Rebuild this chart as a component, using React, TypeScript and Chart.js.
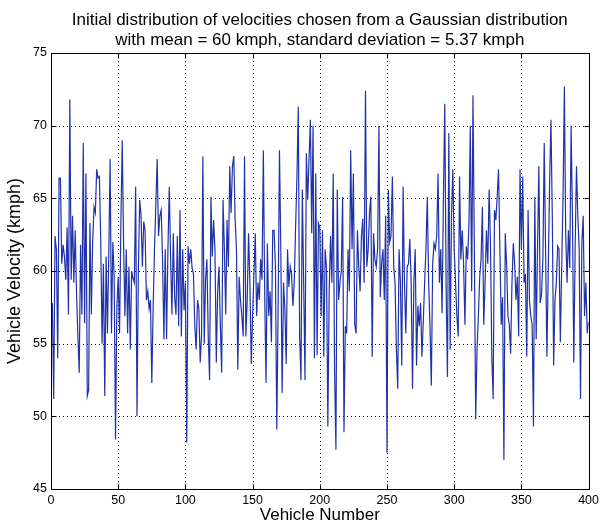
import { useEffect, useRef } from 'react';
import { Chart, registerables } from 'chart.js';

Chart.register(...registerables);

const titleLines = [
  'Initial distribution of velocities chosen from a Gaussian distribution',
  'with mean = 60 kmph, standard deviation = 5.37 kmph',
];
const xAxisTitle = 'Vehicle Number';
const yAxisTitle = 'Vehicle Velocity (kmph)';
const xTicks = [0, 50, 100, 150, 200, 250, 300, 350, 400];
const yTicks = [45, 50, 55, 60, 65, 70, 75];

const speeds001 = [57.8, 51.2, 62.4, 61.5, 54.0, 66.4, 66.4, 60.5, 61.8, 61.0, 59.4, 63.0, 57.0, 71.8, 59.4, 63.8, 59.2, 62.8, 58.5, 55.5, 53.0, 61.8, 57.0, 68.8, 56.4, 66.7, 51.4, 51.8, 63.3, 57.0, 62.0, 64.4, 64.0, 67.0, 66.4, 66.5, 62.2, 55.0, 60.5, 51.4, 61.0, 55.7, 61.2, 67.7, 55.7, 62.0, 59.6, 48.4, 57.5, 59.6];
const speeds051 = [55.7, 63.3, 69.0, 62.0, 56.9, 61.5, 55.7, 60.3, 54.6, 60.0, 59.5, 59.2, 65.8, 50.0, 60.0, 64.9, 63.8, 60.3, 63.4, 62.8, 58.0, 58.6, 57.4, 58.0, 52.3, 57.5, 61.5, 64.5, 67.7, 62.4, 63.8, 64.2, 60.8, 55.3, 61.5, 55.3, 61.5, 65.8, 60.8, 57.0, 62.6, 58.2, 57.0, 62.4, 56.2, 64.2, 55.5, 61.5, 57.3, 59.2];
const speeds101 = [48.2, 61.7, 60.5, 61.5, 60.2, 59.8, 56.2, 54.6, 58.0, 57.4, 53.7, 55.5, 67.9, 55.0, 59.4, 60.8, 55.5, 52.5, 65.1, 61.0, 63.5, 61.5, 53.7, 58.6, 60.3, 56.2, 53.0, 64.9, 61.5, 57.0, 63.5, 60.3, 67.2, 64.0, 67.2, 67.9, 63.6, 61.5, 53.2, 59.6, 58.0, 56.9, 55.5, 67.9, 55.5, 58.0, 62.6, 59.2, 53.6, 56.9];
const speeds151 = [59.8, 62.6, 56.9, 59.2, 58.0, 60.8, 59.4, 68.3, 58.5, 52.3, 61.9, 56.9, 58.6, 55.1, 62.8, 62.8, 60.3, 49.1, 57.4, 68.3, 61.5, 51.6, 59.2, 57.4, 53.6, 61.5, 58.9, 60.3, 59.8, 57.6, 59.2, 63.0, 66.5, 71.3, 55.5, 52.5, 65.6, 59.2, 52.5, 68.1, 64.9, 67.7, 70.4, 62.6, 70.0, 54.0, 66.7, 54.2, 63.3, 63.0];
const speeds201 = [56.9, 62.8, 54.1, 61.5, 60.2, 49.3, 58.6, 62.4, 59.2, 66.7, 53.2, 47.7, 65.6, 58.0, 59.2, 60.0, 65.1, 48.9, 56.2, 55.7, 61.5, 58.6, 68.3, 61.5, 66.7, 56.3, 55.7, 62.8, 60.3, 58.6, 62.4, 63.6, 59.2, 72.4, 60.3, 61.5, 64.0, 65.1, 54.1, 62.6, 60.8, 60.3, 61.5, 70.0, 58.2, 60.5, 61.5, 58.0, 63.8, 47.5];
const speeds251 = [65.6, 62.0, 62.4, 66.5, 60.3, 59.2, 54.6, 51.9, 61.5, 59.2, 53.5, 65.8, 59.2, 55.7, 60.3, 60.5, 62.2, 59.2, 51.9, 59.2, 61.5, 53.5, 57.6, 56.2, 57.8, 54.1, 56.5, 59.2, 61.5, 65.1, 59.2, 56.2, 52.1, 60.5, 61.9, 61.5, 62.4, 66.7, 59.2, 61.5, 57.1, 65.1, 71.5, 58.9, 52.7, 69.5, 54.6, 63.8, 67.0, 61.5];
const speeds301 = [59.2, 56.9, 55.5, 66.5, 60.8, 62.8, 60.5, 56.3, 61.7, 60.8, 63.3, 70.0, 58.6, 72.1, 61.5, 49.8, 54.6, 56.9, 59.6, 60.8, 64.4, 56.3, 59.2, 62.8, 60.5, 65.6, 61.9, 54.1, 51.2, 64.2, 63.5, 65.1, 67.0, 61.5, 56.3, 58.2, 47.0, 62.6, 60.5, 56.9, 56.3, 54.3, 59.2, 61.9, 60.5, 58.0, 59.6, 55.5, 67.0, 61.5];
const speeds351 = [66.5, 59.2, 59.8, 54.1, 64.2, 58.0, 56.9, 56.3, 49.3, 65.1, 55.3, 61.5, 67.2, 57.8, 58.4, 60.8, 68.8, 61.5, 54.1, 60.0, 66.0, 70.4, 63.8, 53.5, 58.0, 59.2, 61.7, 61.5, 55.1, 60.3, 65.1, 72.7, 62.4, 59.2, 62.8, 60.2, 70.0, 63.8, 53.7, 61.5, 67.2, 63.8, 61.5, 51.2, 61.9, 63.8, 56.9, 59.2, 55.7, 56.5];

const velocities = [
  ...speeds001, ...speeds051, ...speeds101, ...speeds151,
  ...speeds201, ...speeds251, ...speeds301, ...speeds351,
];
const vehicleNumbers = velocities.map((_, i) => i + 1);

const FONT = '"Liberation Sans", Arial, Helvetica, sans-serif';
const LINE_COLOR = 'rgb(32, 50, 168)';

const framePlugin = {
  id: 'matlabFrame',
  beforeDatasetsDraw(chart: any) {
    const { ctx, chartArea: a, scales } = chart;
    const x = scales.x;
    const y = scales.y;
    ctx.save();
    ctx.strokeStyle = '#000';
    ctx.lineWidth = 1;
    ctx.setLineDash([1, 3]);
    ctx.beginPath();
    xTicks.forEach((v) => {
      if (v <= x.min || v >= x.max) return;
      const px = Math.round(x.getPixelForValue(v)) + 0.5;
      ctx.moveTo(px, a.top);
      ctx.lineTo(px, a.bottom);
    });
    yTicks.forEach((v) => {
      if (v <= y.min || v >= y.max) return;
      const py = Math.round(y.getPixelForValue(v)) + 0.5;
      ctx.moveTo(a.left, py);
      ctx.lineTo(a.right, py);
    });
    ctx.stroke();
    ctx.restore();
  },
  afterDatasetsDraw(chart: any) {
    const { ctx, chartArea: a, scales } = chart;
    const x = scales.x;
    const y = scales.y;
    const t = 5;
    ctx.save();
    ctx.strokeStyle = '#000';
    ctx.lineWidth = 1;
    ctx.setLineDash([]);
    const l = Math.round(a.left) + 0.5;
    const r = Math.round(a.right) + 0.5;
    const tp = Math.round(a.top) + 0.5;
    const b = Math.round(a.bottom) + 0.5;
    ctx.strokeRect(l, tp, r - l, b - tp);
    ctx.beginPath();
    xTicks.forEach((v) => {
      const px = Math.round(x.getPixelForValue(v)) + 0.5;
      ctx.moveTo(px, b);
      ctx.lineTo(px, b - t);
      ctx.moveTo(px, tp);
      ctx.lineTo(px, tp + t);
    });
    yTicks.forEach((v) => {
      const py = Math.round(y.getPixelForValue(v)) + 0.5;
      ctx.moveTo(l, py);
      ctx.lineTo(l + t, py);
      ctx.moveTo(r, py);
      ctx.lineTo(r - t, py);
    });
    ctx.stroke();

    ctx.fillStyle = '#000';
    const cx = (a.left + a.right) / 2;
    ctx.textAlign = 'center';
    ctx.textBaseline = 'alphabetic';
    ctx.font = `17px ${FONT}`;
    ctx.fillText(titleLines[0], cx, 25);
    ctx.fillText(titleLines[1], cx, 44.5);

    ctx.textBaseline = 'middle';
    ctx.font = `17px ${FONT}`;
    ctx.fillText(xAxisTitle, cx, 515);

    ctx.save();
    ctx.translate(15, (a.top + a.bottom) / 2);
    ctx.rotate(-Math.PI / 2);
    ctx.font = `18px ${FONT}`;
    ctx.fillText(yAxisTitle, 0, 0);
    ctx.restore();
    ctx.restore();
  },
};

export default function App() {
  const canvasRef = useRef<HTMLCanvasElement | null>(null);

  useEffect(() => {
    document.body.style.margin = '0';
    const canvas = canvasRef.current;
    if (!canvas) return;
    const chart = new Chart(canvas, {
      type: 'line',
      data: {
        datasets: [
          {
            label: 'Vehicle velocity',
            data: vehicleNumbers.map((n, i) => ({ x: n, y: velocities[i] })),
            borderColor: LINE_COLOR,
            borderWidth: 1.2,
            pointRadius: 0,
            tension: 0,
            fill: false,
          },
        ],
      },
      options: {
        animation: false,
        responsive: false,
        maintainAspectRatio: false,
        layout: { padding: { top: 53, right: 12, left: 0, bottom: 0 } },
        plugins: {
          legend: { display: false },
          title: { display: false },
          tooltip: { enabled: false },
        },
        scales: {
          x: {
            type: 'linear',
            min: 0,
            max: 400,
            afterBuildTicks: (s: any) => {
              s.ticks = xTicks.map((v) => ({ value: v }));
            },
            afterFit: (s: any) => {
              s.height = 38;
            },
            grid: { display: false, drawTicks: false },
            border: { display: false },
            ticks: {
              color: '#000',
              font: { family: FONT, size: 12.5 },
              padding: 4,
              maxRotation: 0,
              autoSkip: false,
            },
          },
          y: {
            type: 'linear',
            min: 45,
            max: 75,
            afterBuildTicks: (s: any) => {
              s.ticks = yTicks.map((v) => ({ value: v }));
            },
            afterFit: (s: any) => {
              s.width = 51;
            },
            grid: { display: false, drawTicks: false },
            border: { display: false },
            ticks: {
              color: '#000',
              font: { family: FONT, size: 12.5 },
              padding: 4,
              autoSkip: false,
            },
          },
        },
      },
      plugins: [framePlugin],
    });
    return () => chart.destroy();
  }, []);

  return (
    <div style={{ width: 603, height: 527, background: '#fff' }}>
      <canvas ref={canvasRef} width={603} height={527} style={{ display: 'block' }} />
    </div>
  );
}
